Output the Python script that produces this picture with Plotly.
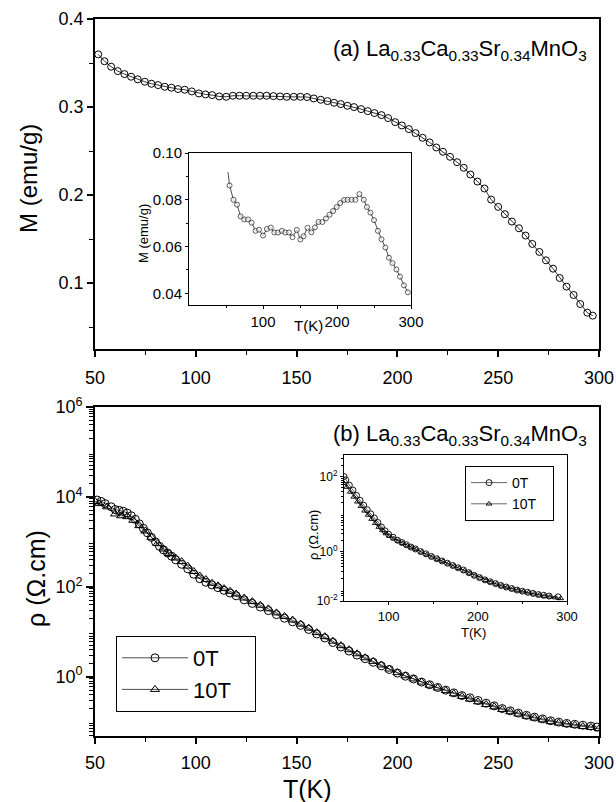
import plotly.graph_objects as go

W, H = 616, 802
FONT = "Liberation Sans, Arial, Helvetica, sans-serif"

# ---------------- data: panel (a) main ----------------
T_a = [51.6, 54.7, 58.0, 61.3, 64.6, 67.9, 71.2, 74.7, 78.0, 81.3, 84.6, 87.9, 91.2, 94.5,
       98.0, 101.5, 104.8, 108.1, 111.6, 115.1, 118.4, 121.7, 125.0, 128.5, 131.8, 135.1,
       138.5, 141.8, 145.1, 148.6, 151.9, 155.2, 158.5, 162.0, 165.3, 168.6, 171.9, 175.2,
       178.5, 182.0, 185.3, 188.6, 192.1, 195.4, 198.9, 202.2, 205.7, 209.0, 212.5, 216.0,
       219.3, 222.6, 226.1, 229.6, 232.9, 236.2, 239.7, 243.2, 246.5, 250.0, 253.3, 256.8,
       260.3, 263.6, 266.9, 270.4, 273.7, 277.2, 280.5, 283.9, 287.4, 290.7, 294.2, 296.9]
M_a = [0.3598, 0.3520, 0.3458, 0.3408, 0.3374, 0.3344, 0.3314, 0.3287, 0.3264, 0.3249,
       0.3230, 0.3219, 0.3204, 0.3196, 0.3177, 0.3154, 0.3143, 0.3135, 0.3120, 0.3116,
       0.3128, 0.3128, 0.3128, 0.3128, 0.3128, 0.3128, 0.3124, 0.3120, 0.3116, 0.3116,
       0.3116, 0.3113, 0.3097, 0.3082, 0.3067, 0.3048, 0.3033, 0.3014, 0.2999, 0.2976,
       0.2953, 0.2931, 0.2908, 0.2874, 0.2828, 0.2790, 0.2749, 0.2703, 0.2650, 0.2597,
       0.2540, 0.2491, 0.2434, 0.2373, 0.2309, 0.2233, 0.2153, 0.2074, 0.1948, 0.1865,
       0.1782, 0.1698, 0.1622, 0.1539, 0.1444, 0.1353, 0.1258, 0.1163, 0.1057, 0.0959,
       0.0864, 0.0761, 0.0663, 0.0629]

# ---------------- data: panel (a) inset ----------------
T_ai = [52.7, 54.8, 60.1, 64.9, 69.7, 74.5, 79.8, 84.6, 89.9, 94.7, 100.0, 105.3, 110.6,
        115.4, 120.2, 125.5, 130.3, 135.1, 139.9, 145.7, 150.5, 154.8, 160.1, 165.4, 170.2,
        175.0, 180.3, 185.1, 189.9, 194.7, 199.5, 204.3, 209.6, 214.4, 219.7, 225.0, 230.3,
        236.2, 240.4, 245.2, 250.0, 255.3, 260.1, 265.4, 270.2, 275.0, 280.3, 285.1, 290.4,
        295.7]
M_ai = [0.0918, 0.0861, 0.0800, 0.0779, 0.0729, 0.0716, 0.0716, 0.0702, 0.0667, 0.0672,
        0.0647, 0.0675, 0.0681, 0.0660, 0.0660, 0.0667, 0.0660, 0.0660, 0.0640, 0.0671,
        0.0630, 0.0644, 0.0680, 0.0661, 0.0682, 0.0705, 0.0705, 0.0720, 0.0736, 0.0752,
        0.0769, 0.0786, 0.0799, 0.0800, 0.0800, 0.0800, 0.0824, 0.0800, 0.0769, 0.0745,
        0.0713, 0.0667, 0.0631, 0.0596, 0.0552, 0.0529, 0.0502, 0.0471, 0.0434, 0.0404]

# ---------------- data: panel (b) main (log10 of rho) ----------------
T_b0 = [51, 53, 55, 58, 60, 62, 64, 66, 68, 70, 72, 74, 76, 78, 80, 82, 84, 86, 88, 90, 93, 96,
        99, 102, 105, 108, 111, 114, 117, 120, 124, 128, 132, 136, 140, 144, 148, 152, 156,
        160, 164, 168, 172, 176, 180, 184, 188, 192, 196, 200, 204, 208, 212, 216, 220, 224,
        228, 232, 236, 240, 244, 248, 252, 256, 260, 264, 268, 272, 276, 280, 284, 288, 292,
        296, 299]
logrho_b0 = [3.93, 3.90, 3.85, 3.78, 3.72, 3.70, 3.68, 3.64, 3.58, 3.50, 3.40, 3.30, 3.20,
             3.10, 3.00, 2.90, 2.82, 2.75, 2.68, 2.60, 2.50, 2.40, 2.28, 2.18, 2.10, 2.04,
             1.98, 1.92, 1.86, 1.80, 1.71, 1.63, 1.55, 1.47, 1.38, 1.30, 1.22, 1.14, 1.05,
             0.95, 0.86, 0.76, 0.66, 0.57, 0.48, 0.40, 0.32, 0.24, 0.16, 0.08, 0.01, -0.05,
             -0.12, -0.18, -0.24, -0.30, -0.36, -0.42, -0.47, -0.53, -0.59, -0.65, -0.71,
             -0.76, -0.81, -0.86, -0.90, -0.94, -0.98, -1.01, -1.04, -1.06, -1.08, -1.10, -1.12]
T_b10 = [50, 52, 56, 60, 63, 66, 69, 72, 75, 78, 81, 84, 87, 90, 93, 96, 99, 102, 105, 108,
         111, 114, 117, 120, 124, 128, 132, 136, 140, 144, 148, 152, 156, 160, 164, 168, 172,
         176, 180, 184, 188, 192, 196, 200, 204, 208, 212, 216, 220, 224, 228, 232, 236, 240,
         244, 248, 252, 256, 260, 264, 268, 272, 276, 280, 284, 288, 292, 296, 300]
logrho_b10 = [3.90, 3.85, 3.78, 3.62, 3.58, 3.56, 3.48, 3.36, 3.24, 3.10, 2.96, 2.84, 2.74,
              2.64, 2.56, 2.46, 2.34, 2.24, 2.16, 2.08, 2.02, 1.96, 1.90, 1.84, 1.75, 1.67,
              1.59, 1.51, 1.42, 1.34, 1.26, 1.17, 1.08, 0.98, 0.89, 0.79, 0.69, 0.60, 0.51,
              0.42, 0.34, 0.26, 0.17, 0.09, 0.02, -0.05, -0.12, -0.19, -0.25, -0.31, -0.38,
              -0.44, -0.50, -0.56, -0.62, -0.67, -0.73, -0.78, -0.83, -0.88, -0.92, -0.96,
              -1.00, -1.03, -1.06, -1.08, -1.11, -1.13, -1.16]

# ---------------- data: panel (b) inset (log10 of rho) ----------------
T_bi0 = [50, 52, 56, 60, 64, 68, 72, 76, 80, 84, 88, 92, 96, 100, 105, 110, 115, 120, 125,
         130, 136, 142, 148, 154, 160, 166, 172, 178, 184, 190, 196, 202, 208, 214, 220, 226,
         232, 238, 244, 250, 256, 262, 268, 274, 280, 290]
logrho_bi0 = [2.00, 1.91, 1.77, 1.64, 1.50, 1.37, 1.24, 1.12, 1.01, 0.90, 0.78, 0.66, 0.56,
              0.47, 0.39, 0.31, 0.25, 0.19, 0.13, 0.08, 0.01, -0.05, -0.12, -0.18, -0.24,
              -0.30, -0.36, -0.42, -0.48, -0.55, -0.62, -0.68, -0.74, -0.79, -0.84, -0.89,
              -0.93, -0.97, -1.01, -1.04, -1.07, -1.10, -1.13, -1.15, -1.17, -1.19]
T_bi10 = [50, 53, 57, 61, 65, 69, 73, 77, 81, 85, 89, 93, 97, 101, 106, 111, 116, 121, 126,
          131, 137, 143, 149, 155, 161, 167, 173, 179, 185, 191, 197, 203, 209, 215, 221, 227,
          233, 239, 245, 251, 257, 263, 269, 275, 281, 287, 293]
logrho_bi10 = [1.82, 1.72, 1.59, 1.46, 1.33, 1.21, 1.09, 0.98, 0.87, 0.76, 0.66, 0.57, 0.49,
               0.42, 0.35, 0.29, 0.23, 0.17, 0.12, 0.07, 0.00, -0.07, -0.13, -0.19, -0.25,
               -0.31, -0.37, -0.43, -0.50, -0.56, -0.63, -0.69, -0.75, -0.80, -0.85, -0.90,
               -0.94, -0.98, -1.02, -1.05, -1.08, -1.11, -1.14, -1.17, -1.19, -1.21, -1.23]

rho_b0 = [10 ** v for v in logrho_b0]
rho_b10 = [10 ** v for v in logrho_b10]
rho_bi0 = [10 ** v for v in logrho_bi0]
rho_bi10 = [10 ** v for v in logrho_bi10]

legend_labels = ["0T", "10T"]
formula = "La<sub>0.33</sub>Ca<sub>0.33</sub>Sr<sub>0.34</sub>MnO<sub>3</sub>"
PAD = "\u00a0\u00a0\u00a0"  # right padding inside the legend boxes


def px(x):
    return x / W


def py(y):
    return 1 - y / H


fig = go.Figure()

LINE = dict(color="black", width=0.8)

# panel (a) main
fig.add_trace(go.Scatter(x=T_a, y=M_a, mode="lines+markers", line=LINE,
                         marker=dict(symbol="circle-open", size=7, color="black", line=dict(width=1)),
                         xaxis="x", yaxis="y", showlegend=False))
# panel (a) inset
inset_sizes = [0] + [5] * (len(T_ai) - 1)
fig.add_trace(go.Scatter(x=T_ai, y=M_ai, mode="lines+markers", line=dict(color="black", width=0.7),
                         marker=dict(symbol="circle", size=inset_sizes, color="white",
                                     line=dict(width=0.9, color="black")),
                         xaxis="x2", yaxis="y2", showlegend=False))
# panel (b) main
fig.add_trace(go.Scatter(x=T_b0, y=rho_b0, mode="lines+markers", name=legend_labels[0] + PAD,
                         line=dict(color="black", width=0.7),
                         marker=dict(symbol="circle-open", size=8, color="black", line=dict(width=1)),
                         xaxis="x3", yaxis="y3", legend="legend"))
fig.add_trace(go.Scatter(x=T_b10, y=rho_b10, mode="lines+markers", name=legend_labels[1] + PAD,
                         line=dict(color="black", width=0.7),
                         marker=dict(symbol="triangle-up-open", size=8, color="black", line=dict(width=1)),
                         xaxis="x3", yaxis="y3", legend="legend"))
# panel (b) inset
fig.add_trace(go.Scatter(x=T_bi0, y=rho_bi0, mode="lines+markers", name=legend_labels[0] + PAD,
                         line=dict(color="black", width=0.6),
                         marker=dict(symbol="circle-open", size=6, color="black", line=dict(width=0.9)),
                         xaxis="x4", yaxis="y4", legend="legend2"))
fig.add_trace(go.Scatter(x=T_bi10, y=rho_bi10, mode="lines+markers", name=legend_labels[1] + PAD,
                         line=dict(color="black", width=0.6),
                         marker=dict(symbol="triangle-up-open", size=5, color="black", line=dict(width=0.9)),
                         xaxis="x4", yaxis="y4", legend="legend2"))

axis_common = dict(showline=True, linecolor="black", mirror=True, showgrid=False, zeroline=False,
                   ticks="outside", tickcolor="black", color="black", automargin=False)

log_minor = [k * 10 ** n for n in range(-3, 7) for k in range(2, 10)]

fig.update_layout(
    width=W, height=H, margin=dict(l=0, r=0, t=0, b=0, pad=0, autoexpand=False),
    paper_bgcolor="white", plot_bgcolor="white",
    font=dict(family=FONT, color="black"),
    # (a) main
    xaxis=dict(axis_common, domain=[px(95), px(599)], anchor="y", range=[50, 300],
               tickvals=[50, 100, 150, 200, 250, 300], linewidth=1.6, ticklen=6, tickwidth=1.5,
               tickfont=dict(size=18), ticklabelstandoff=6,
               minor=dict(ticks="outside", tickvals=[75, 125, 175, 225, 275], ticklen=4, tickwidth=1.2,
                          tickcolor="black")),
    yaxis=dict(axis_common, domain=[py(349), py(19)], anchor="x", range=[0.025, 0.4],
               tickvals=[0.1, 0.2, 0.3, 0.4], ticktext=["0.1", "0.2", "0.3", "0.4"],
               linewidth=1.6, ticklen=6, tickwidth=1.5, tickfont=dict(size=18),
               minor=dict(ticks="outside", tickvals=[0.05, 0.15, 0.25, 0.35], ticklen=4, tickwidth=1.2,
                          tickcolor="black")),
    # (a) inset
    xaxis2=dict(axis_common, domain=[px(189), px(411)], anchor="y2", range=[0, 300],
                tickvals=[100, 200, 300], linewidth=1, ticklen=3, tickwidth=1, tickfont=dict(size=15),
                minor=dict(ticks="outside", tickvals=[50, 150, 250], ticklen=2, tickcolor="black")),
    yaxis2=dict(axis_common, domain=[py(305), py(153)], anchor="x2", range=[0.035, 0.10],
                tickvals=[0.04, 0.06, 0.08, 0.10], ticktext=["0.04", "0.06", "0.08", "0.10"],
                linewidth=1, ticklen=3, tickwidth=1, tickfont=dict(size=15),
                minor=dict(ticks="outside", tickvals=[0.05, 0.07, 0.09], ticklen=2, tickcolor="black")),
    # (b) main
    xaxis3=dict(axis_common, domain=[px(95), px(599)], anchor="y3", range=[50, 300],
                tickvals=[50, 100, 150, 200, 250, 300], linewidth=1.6, ticklen=6, tickwidth=1.5,
                tickfont=dict(size=18), ticklabelstandoff=4,
                minor=dict(ticks="outside", tickvals=[75, 125, 175, 225, 275], ticklen=4, tickwidth=1.2,
                           tickcolor="black")),
    yaxis3=dict(axis_common, type="log", domain=[py(736), py(407)], anchor="x3", range=[-1.32, 6],
                tickvals=[1, 1e2, 1e4, 1e6],
                ticktext=["10<sup>0</sup>", "10<sup>2</sup>", "10<sup>4</sup>", "10<sup>6</sup>"],
                linewidth=1.6, ticklen=7, tickwidth=1.5, tickfont=dict(size=18),
                minor=dict(ticks="outside", tickvals=log_minor, ticklen=4, tickwidth=1, tickcolor="black")),
    # (b) inset
    xaxis4=dict(axis_common, domain=[px(344), px(567)], anchor="y4", range=[50, 300],
                tickvals=[100, 200, 300], linewidth=1, ticklen=3, tickwidth=1, tickfont=dict(size=13),
                minor=dict(ticks="outside", tickvals=[150, 250], ticklen=2, tickcolor="black")),
    yaxis4=dict(axis_common, type="log", domain=[py(601), py(455)], anchor="x4", range=[-1.30, 2.57],
                tickvals=[10 ** -1.30, 1, 1e2],
                ticktext=["10<sup>-2</sup>", "10<sup>0</sup>", "10<sup>2</sup>"],
                linewidth=1, ticklen=3, tickwidth=1, tickfont=dict(size=12),
                minor=dict(ticks="outside", tickvals=[v for v in log_minor if 0.06 < v < 350],
                           ticklen=2, tickcolor="black")),
    legend=dict(x=px(116), y=py(636), xanchor="left", yanchor="top", bordercolor="black", borderwidth=1,
                bgcolor="white", font=dict(size=22, family=FONT), itemwidth=66, tracegroupgap=0),
    legend2=dict(x=px(465), y=py(466), xanchor="left", yanchor="top", bordercolor="black", borderwidth=1,
                 bgcolor="white", font=dict(size=14, family=FONT), itemwidth=36, tracegroupgap=0),
)

ann = [
    dict(text="(a) " + formula, x=px(589), y=py(50), xanchor="right", yanchor="middle", font=dict(size=22)),
    dict(text="(b) " + formula, x=px(589), y=py(435), xanchor="right", yanchor="middle", font=dict(size=22)),
    dict(text="M (emu/g)", x=px(28), y=py(179), textangle=-90, font=dict(size=24)),
    dict(text="ρ (Ω.cm)", x=px(36), y=py(579), textangle=-90, font=dict(size=25)),
    dict(text="T(K)", x=px(307), y=py(789), font=dict(size=25)),
    dict(text="M (emu/g)", x=px(144), y=py(234), textangle=-90, font=dict(size=13)),
    dict(text="T(K)", x=px(308), y=py(325), font=dict(size=15)),
    dict(text="ρ (Ω.cm)", x=px(313), y=py(535), textangle=-90, font=dict(size=13)),
    dict(text="T(K)", x=px(473), y=py(632), font=dict(size=13)),
]
for a in ann:
    a.update(xref="paper", yref="paper", showarrow=False)
    a.setdefault("xanchor", "center")
    a.setdefault("yanchor", "middle")
    a["font"] = dict(a["font"], family=FONT, color="black")
fig.update_layout(annotations=ann)

fig.write_html("out.html")
